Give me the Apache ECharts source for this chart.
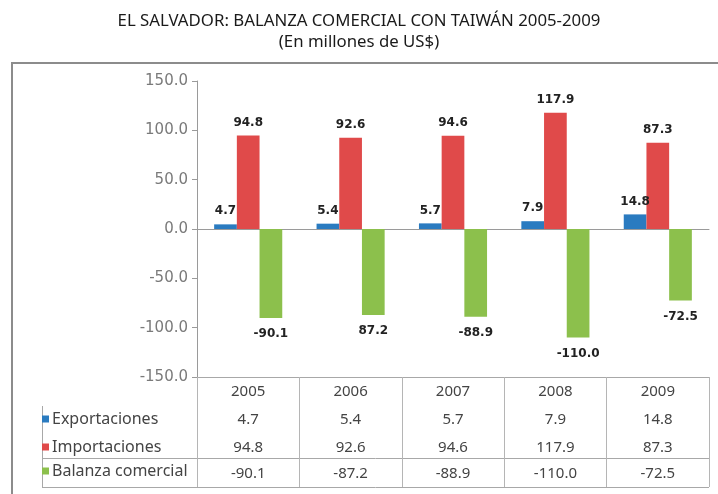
<!DOCTYPE html>
<html>
<head>
<meta charset="utf-8">
<script src="https://cdn.jsdelivr.net/npm/echarts@6/dist/echarts.min.js"></script>
<style>html,body{margin:0;padding:0;background:#fff}#c{width:718px;height:494px}</style>
</head>
<body>
<div id="c"></div>
<script>
var years = ['2005', '2006', '2007', '2008', '2009'];
var exportaciones = [4.7, 5.4, 5.7, 7.9, 14.8];
var importaciones = [94.8, 92.6, 94.6, 117.9, 87.3];
var balanza = [-90.1, -87.2, -88.9, -110.0, -72.5];
var balanzaChartLabels = ['-90.1', '87.2', '-88.9', '-110.0', '-72.5'];
var seriesNames = ['Exportaciones', 'Importaciones', 'Balanza comercial'];
var yTicks = [-150, -100, -50, 0, 50, 100, 150];

var colors = ['#2a7bc0', '#e04a4a', '#8cc04c'];
var tableFont = 'Noto Sans';
var tableColor = '#444';

var chart = echarts.init(document.getElementById('c'), null, {renderer: 'canvas'});

function fmt(v) { return v.toFixed(1); }

var valLabel = {
  show: true,
  position: 'top',
  distance: 7,
  fontFamily: 'DejaVu Sans',
  fontWeight: 'bold',
  fontSize: 12,
  color: '#222'
};

var option = {
  animation: false,
  color: colors,
  title: {
    text: 'EL SALVADOR: BALANZA COMERCIAL CON TAIWÁN 2005-2009',
    subtext: '(En millones de US$)',
    left: 'center',
    top: 11,
    padding: 0,
    itemGap: 1,
    textStyle: {fontFamily: 'Noto Sans', fontSize: 16.8, fontWeight: 'normal', color: '#1a1a1a', lineHeight: 20},
    subtextStyle: {fontFamily: 'Noto Sans', fontSize: 16.8, color: '#1a1a1a', lineHeight: 20}
  },
  legend: seriesNames.map(function (n, i) {
    return {
      data: [n],
      left: 42,
      top: [409, 437, 461][i],
      padding: 0,
      icon: 'rect',
      itemWidth: 7,
      itemHeight: 7,
      selectedMode: false,
      textStyle: {fontFamily: tableFont, fontSize: 16, color: tableColor, lineHeight: 20, padding: [0, 0, 0, -2]}
    };
  }),
  grid: {left: 197, right: 9, top: 81, bottom: 117, containLabel: false},
  xAxis: [
    {
      type: 'category',
      data: years,
      position: 'top',
      axisLine: {onZero: true, lineStyle: {color: '#9a9a9a', width: 1}},
      axisTick: {show: false},
      axisLabel: {show: false},
      splitLine: {show: false}
    },
    {
      type: 'category',
      data: years,
      position: 'bottom',
      gridIndex: 0,
      axisLine: {onZero: false, lineStyle: {color: '#a8a8a8', width: 1}},
      axisTick: {show: true, length: 110, lineStyle: {color: '#b5b5b5'}},
      axisLabel: {
        show: true,
        interval: 0,
        margin: 1,
        formatter: function (v, idx) {
          return '{y|' + v + '}\n{a|' + fmt(exportaciones[idx]) + '}\n{a|' + fmt(importaciones[idx]) + '}\n{b|' + fmt(balanza[idx]) + '}';
        },
        rich: {
          y: {fontFamily: tableFont, fontSize: 15, color: tableColor, lineHeight: 28, height: 28},
          a: {fontFamily: tableFont, fontSize: 15, color: tableColor, lineHeight: 28, height: 28},
          b: {fontFamily: tableFont, fontSize: 15, color: tableColor, lineHeight: 24, height: 24}
        }
      }
    }
  ],
  yAxis: {
    type: 'value',
    min: -150,
    max: 150,
    interval: 50,
    axisLine: {show: true, lineStyle: {color: '#9a9a9a'}},
    axisTick: {show: true, length: 5, lineStyle: {color: '#9a9a9a'}},
    splitLine: {show: false},
    axisLabel: {
      margin: 9,
      fontFamily: 'DejaVu Sans',
      fontSize: 15,
      color: '#7a7a7a',
      formatter: function (v) { return v.toFixed(1); }
    }
  },
  series: [
    {
      name: seriesNames[0], type: 'bar', data: exportaciones, xAxisIndex: 0,
      barWidth: 22.7, barGap: '0%', barCategoryGap: '33%',
      label: Object.assign({}, valLabel, {formatter: function (p) { return fmt(p.value); }})
    },
    {
      name: seriesNames[1], type: 'bar', data: importaciones, xAxisIndex: 0,
      barWidth: 22.7, barGap: '0%',
      label: Object.assign({}, valLabel, {formatter: function (p) { return fmt(p.value); }})
    },
    {
      name: seriesNames[2], type: 'bar', data: balanza, xAxisIndex: 0,
      barWidth: 22.7, barGap: '0%',
      label: Object.assign({}, valLabel, {position: 'bottom', distance: 10, formatter: function (p) { return balanzaChartLabels[p.dataIndex]; }})
    }
  ],
  graphic: [
    {type: 'polyline', shape: {points: [[12, 494], [12, 63], [718, 63]]}, style: {stroke: '#8c8c8c', lineWidth: 2, fill: null}, silent: true},
    {type: 'line', shape: {x1: 42, y1: 458.5, x2: 709, y2: 458.5}, style: {stroke: '#a8a8a8', lineWidth: 1}, silent: true},
    {type: 'line', shape: {x1: 42, y1: 487.5, x2: 709, y2: 487.5}, style: {stroke: '#a8a8a8', lineWidth: 1}, silent: true},
    {type: 'line', shape: {x1: 42.5, y1: 406, x2: 42.5, y2: 488}, style: {stroke: '#a8a8a8', lineWidth: 1}, silent: true}
  ]
};
chart.setOption(option);
</script>
</body>
</html>
